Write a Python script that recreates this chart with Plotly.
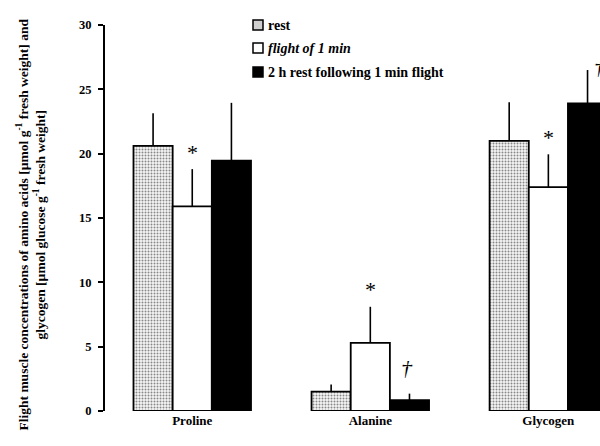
import plotly.graph_objects as go

categories = ["Proline", "Alanine", "Glycogen"]
rest = [20.6, 1.5, 21.0]
rest_err = [2.55, 0.55, 3.0]
flight = [15.9, 5.3, 17.4]
flight_err = [2.9, 2.8, 2.55]
post = [19.45, 0.85, 23.9]
post_err = [4.5, 0.5, 2.6]
series_names = ["rest", "flight of 1 min", "2 h rest following 1 min flight"]
y_ticks = [0, 5, 10, 15, 20, 25, 30]

FONT = "Liberation Serif"
L, R, T, B = 105, 0, 25, 35
W, H = 600, 446
PW, PH = W - L - R, H - T - B

xs = list(range(len(categories)))
fig = go.Figure()

def err(vals):
    return dict(type="data", array=vals, arrayminus=[0] * len(vals), symmetric=False,
                width=0, thickness=1.6, color="black")

fig.add_trace(go.Bar(x=xs, y=rest, name=series_names[0], error_y=err(rest_err),
                     marker=dict(color="white", line=dict(color="black", width=1.8),
                                 pattern=dict(shape=".", fgcolor="#888", bgcolor="#f6f6f6",
                                              size=3, solidity=0.35, fillmode="replace"))))
fig.add_trace(go.Bar(x=xs, y=flight, name=series_names[1], error_y=err(flight_err),
                     marker=dict(color="white", line=dict(color="black", width=1.8))))
fig.add_trace(go.Bar(x=xs, y=post, name=series_names[2], error_y=err(post_err),
                     marker=dict(color="black", line=dict(color="black", width=1.8))))

fig.update_layout(
    width=W, height=H, margin=dict(l=L, r=R, t=T, b=B),
    paper_bgcolor="white", plot_bgcolor="white",
    barmode="group", bargap=0.34, bargroupgap=0,
    showlegend=False,
    font=dict(family=FONT, color="black"),
)
fig.update_xaxes(range=[-0.49, 2.29], tickvals=xs, ticktext=[f"<b>{c}</b>" for c in categories],
                 showline=False, showgrid=False, zeroline=False, ticks="",
                 tickfont=dict(family=FONT, size=13))
fig.update_yaxes(range=[0, 30], tickvals=y_ticks, ticktext=[f"<b>{t}</b>" for t in y_ticks],
                 showline=True, linecolor="black", linewidth=2, ticks="outside", ticklen=5,
                 tickwidth=1.5, tickcolor="black", showgrid=False, zeroline=False,
                 tickfont=dict(family=FONT, size=12.5), ticklabelstandoff=4)

# significance markers
bw = 0.22
marks = [
    (0 + 0 * bw, flight[0] + flight_err[0], "*", 0, 17),
    (1 + 0 * bw, flight[1] + flight_err[1], "*", 0, 17),
    (2 + 0 * bw, flight[2] + flight_err[2], "*", 0, 17),
    (1 + 1 * bw, post[1] + post_err[1], "<i>†</i>", -2, 26),
    (2 + 1 * bw, post[2] + post_err[2], "<i>†</i>", 12, 4),
]
for x, y, t, xs_, ys_ in marks:
    fig.add_annotation(x=x, y=y, text=t, showarrow=False, xshift=xs_, yshift=ys_,
                       font=dict(family=FONT, size=22, color="black"))

# y title
fig.add_annotation(xref="paper", yref="paper", x=(12 - L) / PW, y=(411 - 225) / PH,
                   text="<b>Flight muscle concentrations of amino acids [µmol g<sup>-1</sup> fresh weight] and</b>",
                   textangle=-90, showarrow=False, font=dict(family=FONT, size=13.5))
fig.add_annotation(xref="paper", yref="paper", x=(29 - L) / PW, y=(411 - 225) / PH,
                   text="<b>glycogen [µmol glucose g<sup>-1</sup> fresh weight]</b>",
                   textangle=-90, showarrow=False, font=dict(family=FONT, size=13.5))

# legend (manual)
legend_y = [25, 48, 72]
fills = ["#cfcfcf", "white", "black"]
labels = ["<b>rest</b>", "<b><i>flight of 1 min</i></b>", "<b>2 h rest following 1 min flight</b>"]
for py, fc, lab in zip(legend_y, fills, labels):
    fig.add_shape(type="rect", xref="paper", yref="paper",
                  x0=(253 - L) / PW, x1=(263 - L) / PW,
                  y0=(411 - py - 5) / PH, y1=(411 - py + 5) / PH,
                  fillcolor=fc, line=dict(color="black", width=1.5))
    fig.add_annotation(xref="paper", yref="paper", x=(266 - L) / PW, y=(411 - py) / PH,
                       text=lab, showarrow=False, xanchor="left", yanchor="middle",
                       font=dict(family=FONT, size=14))

fig.write_html("out.html")
